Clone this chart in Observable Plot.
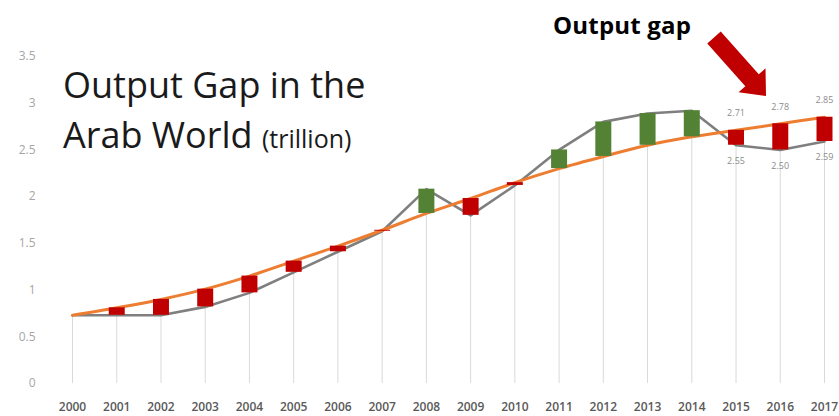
<!DOCTYPE html>
<html>
<head>
<meta charset="utf-8">
<script src="https://cdn.jsdelivr.net/npm/d3@7"></script>
<script src="https://cdn.jsdelivr.net/npm/@observablehq/plot@0.6"></script>
<style>
  html, body { margin: 0; padding: 0; background: #fff; }
  #wrap { position: relative; width: 839px; height: 416px; overflow: hidden; font-family: "Open Sans", sans-serif; }
  #title { position: absolute; left: 63px; top: 60px; font-size: 36px; line-height: 50px; color: #1a1a1a; white-space: nowrap; }
  #title span { font-size: 25px; line-height: 0; }
  #gapLabel { position: absolute; left: 553px; top: 13px; font-size: 24px; line-height: 24px; font-weight: 700; color: #000; white-space: nowrap; letter-spacing: 0.2px; }
  #arrow { position: absolute; left: 0; top: 0; }
</style>
</head>
<body>
<div id="wrap">
  <div id="chart"></div>
  <div id="title">Output Gap in the<br>Arab World <span>(trillion)</span></div>
  <div id="gapLabel">Output gap</div>
  <svg id="arrow" width="839" height="416"></svg>
</div>
<script>
const years = [2000,2001,2002,2003,2004,2005,2006,2007,2008,2009,2010,2011,2012,2013,2014,2015,2016,2017];
const actual = [0.73,0.73,0.73,0.82,0.97,1.19,1.41,1.63,2.08,1.80,2.12,2.50,2.80,2.89,2.92,2.55,2.50,2.59];
const potential = [0.73,0.81,0.90,1.01,1.15,1.31,1.47,1.64,1.82,1.98,2.15,2.30,2.43,2.55,2.64,2.71,2.78,2.85];
const yTicks = [0,0.5,1,1.5,2,2.5,3,3.5];
const labelYears = [2015,2016,2017];

const rows = years.map((year, i) => ({
  year,
  actual: actual[i],
  potential: potential[i],
  low: Math.min(actual[i], potential[i]),
  above: actual[i] >= potential[i]
}));
const labelled = rows.filter(d => labelYears.includes(d.year));

const chart = Plot.plot({
  width: 839,
  height: 416,
  marginLeft: 72,
  marginRight: 15,
  marginTop: 56,
  marginBottom: 33,
  style: { fontFamily: "Open Sans, sans-serif", fontSize: "12px", background: "transparent" },
  x: { type: "linear", domain: [2000, 2017] },
  y: { domain: [0, 3.5] },
  marks: [
    Plot.ruleX(rows, { x: "year", y1: 0, y2: "low", stroke: "#d9d9d9", strokeWidth: 1 }),
    Plot.axisY({ ticks: yTicks, tickFormat: d => String(d), tickSize: 0, tickPadding: 37, fill: "#a6a6a6", label: null }),
    Plot.axisX({ ticks: years, tickFormat: d => String(d), tickSize: 0, tickPadding: 19, fill: "#595959", fontWeight: 600, label: null }),
    Plot.line(rows, { x: "year", y: "actual", stroke: "#7f7f7f", strokeWidth: 2.6 }),
    Plot.line(rows, { x: "year", y: "potential", stroke: "#ed7d31", strokeWidth: 3, curve: "catmull-rom" }),
    Plot.ruleX(rows, { x: "year", y1: "actual", y2: "potential", stroke: d => d.above ? "#548235" : "#c00000", strokeWidth: 16 }),
    Plot.text(labelled, { x: "year", y: "potential", text: d => d.potential.toFixed(2), dy: -17, fontSize: 9, fill: "#8c8c8c" }),
    Plot.text(labelled, { x: "year", y: "actual", text: d => d.actual.toFixed(2), dy: 16, fontSize: 9, fill: "#8c8c8c" })
  ]
});
document.getElementById("chart").appendChild(chart);

// Decorative block arrow pointing at the gap
(function drawArrow() {
  const svg = d3.select("#arrow");
  const tail = [714, 37.5], tip = [766, 96];
  const dx = tip[0] - tail[0], dy = tip[1] - tail[1];
  const len = Math.hypot(dx, dy);
  const ux = dx / len, uy = dy / len, px = -uy, py = ux;
  const shaftHalf = 9, headHalf = 18, headLen = 21;
  const bx = tip[0] - ux * headLen, by = tip[1] - uy * headLen;
  const pts = [
    [tail[0] + px * shaftHalf, tail[1] + py * shaftHalf],
    [bx + px * shaftHalf, by + py * shaftHalf],
    [bx + px * headHalf, by + py * headHalf],
    tip,
    [bx - px * headHalf, by - py * headHalf],
    [bx - px * shaftHalf, by - py * shaftHalf],
    [tail[0] - px * shaftHalf, tail[1] - py * shaftHalf]
  ];
  svg.append("path").attr("d", "M" + pts.map(p => p.join(",")).join("L") + "Z").attr("fill", "#c00000");
})();
</script>
</body>
</html>
